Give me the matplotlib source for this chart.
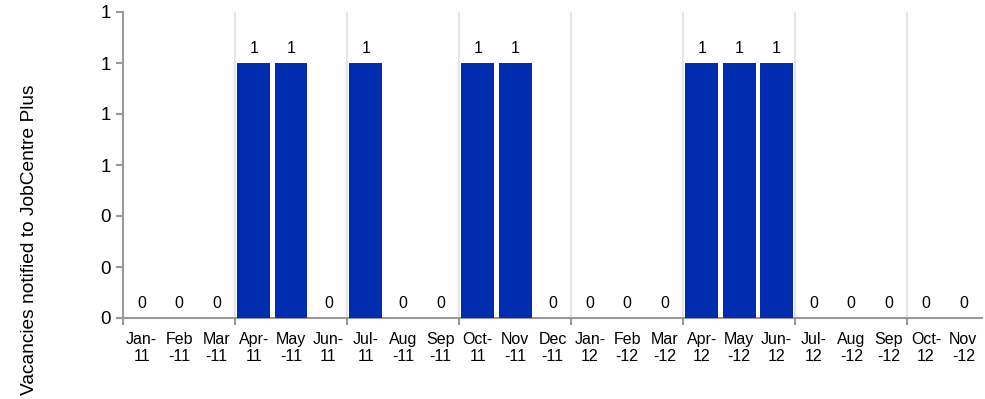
import numpy as np
import matplotlib.pyplot as plt
from matplotlib.ticker import FormatStrFormatter, FixedLocator

plt.rcParams['font.family'] = ['Liberation Sans', 'DejaVu Sans']

# donnees
mois = ["Jan-\n11", "Feb\n-11", "Mar\n-11", "Apr-\n11", "May\n-11", "Jun-\n11",
        "Jul-\n11", "Aug\n-11", "Sep\n-11", "Oct-\n11", "Nov\n-11", "Dec\n-11",
        "Jan-\n12", "Feb\n-12", "Mar\n-12", "Apr-\n12", "May\n-12", "Jun-\n12",
        "Jul-\n12", "Aug\n-12", "Sep\n-12", "Oct-\n12", "Nov\n-12"]
vacances = [0, 0, 0, 1, 1, 0, 1, 0, 0, 1, 1, 0, 0, 0, 0, 1, 1, 1, 0, 0, 0, 0, 0]
y_ticks = [0, 0.2, 0.4, 0.6, 0.8, 1.0, 1.2]

fig = plt.figure(figsize=(9.85, 3.99), dpi=100)
ax = fig.add_axes([123/985, 1 - 318/399, 859/985, 306/399])

x = np.arange(len(mois))
barres = ax.bar(x, vacances, width=0.88, color="#002DB0", zorder=3)
ax.bar_label(barres, fmt="%.0f", padding=5, fontsize=11.5)

ax.set_xlim(-0.5, len(mois) - 0.5)
ax.set_ylim(0, 1.2)
ax.set_yticks(y_ticks)
ax.yaxis.set_major_formatter(FormatStrFormatter("%.0f"))

ax.set_xticks(x)
ax.set_xticklabels(mois, fontsize=11.5, linespacing=1.15)
ax.tick_params(axis="x", length=0, pad=10)
ax.xaxis.set_minor_locator(FixedLocator(np.arange(-0.5, len(mois), 3)))
ax.tick_params(axis="x", which="minor", length=5, color="#999999", width=1.5)
ax.tick_params(axis="y", length=5, color="#999999", width=1.5, labelsize=13.5, pad=4)

# lignes verticales par trimestre
for g in np.arange(2.5, len(mois) - 1, 3):
  ax.axvline(g, color="#E6E6E6", lw=1.5, zorder=1)

for s in ["top", "right"]:
  ax.spines[s].set_visible(False)
for s in ["left", "bottom"]:
  ax.spines[s].set_color("#999999")
  ax.spines[s].set_linewidth(1.5)

fig.text(30/985, 1 - 240/399, "Vacancies notified to JobCentre Plus", rotation=90,
         ha="center", va="center", fontsize=13.8)

plt.savefig("out.png")
